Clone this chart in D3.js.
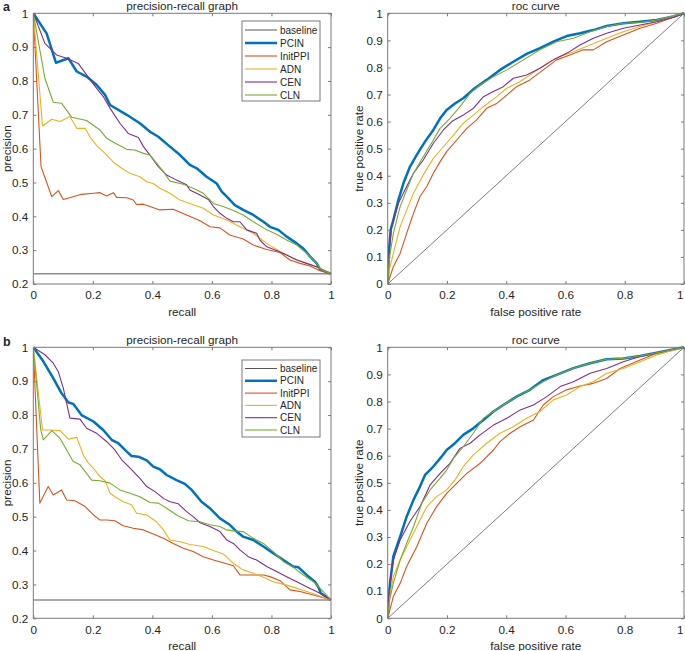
<!DOCTYPE html>
<html><head><meta charset="utf-8">
<script src="https://cdn.jsdelivr.net/npm/d3@7"></script>
<style>
body{margin:0;background:#fff}
svg{display:block}
text{font-family:"Liberation Sans",Arial,Helvetica,sans-serif;fill:#262626}
</style>
</head><body>
<svg id="chart" width="685" height="651"></svg>
<script>
// ---------------- data ----------------
const seriesNames = ["PCIN", "InitPPI", "ADN", "CEN", "CLN"];
const seriesColors = ["#0072BD", "#D95319", "#EDB120", "#7E2F8E", "#77AC30"];
const legendNames = ["baseline", "PCIN", "InitPPI", "ADN", "CEN", "CLN"];
const xTicks = [0, 0.2, 0.4, 0.6, 0.8, 1];
const prYTicks = [0.2, 0.3, 0.4, 0.5, 0.6, 0.7, 0.8, 0.9, 1];
const rocYTicks = [0, 0.1, 0.2, 0.3, 0.4, 0.5, 0.6, 0.7, 0.8, 0.9, 1];
const baselineA = 0.23;
const baselineB = 0.254;
const diagonal = [[0, 0], [1, 1]];

// panel a: precision-recall  [recall, precision]
const prA_PCIN = [[0,1],[0.045,0.94],[0.076,0.854],[0.118,0.867],[0.146,0.828],[0.179,0.813],[0.213,0.788],[0.241,0.759],[0.258,0.729],[0.314,0.7],[0.358,0.675],[0.392,0.65],[0.42,0.635],[0.459,0.606],[0.493,0.581],[0.526,0.552],[0.549,0.542],[0.582,0.517],[0.616,0.497],[0.633,0.473],[0.65,0.458],[0.677,0.433],[0.705,0.419],[0.739,0.404],[0.773,0.384],[0.795,0.369],[0.823,0.36],[0.851,0.34],[0.885,0.32],[0.907,0.305],[0.93,0.281],[0.952,0.261],[0.963,0.243],[1,0.23]];
const prA_InitPPI = [[0,1],[0.026,0.547],[0.062,0.458],[0.084,0.476],[0.101,0.45],[0.134,0.458],[0.162,0.465],[0.202,0.468],[0.224,0.47],[0.246,0.46],[0.269,0.47],[0.28,0.456],[0.314,0.455],[0.336,0.448],[0.347,0.435],[0.37,0.436],[0.392,0.429],[0.425,0.419],[0.47,0.421],[0.515,0.404],[0.56,0.387],[0.594,0.369],[0.627,0.366],[0.66,0.345],[0.705,0.333],[0.739,0.315],[0.784,0.302],[0.829,0.293],[0.862,0.271],[0.896,0.261],[0.93,0.253],[0.963,0.239],[1,0.23]];
const prA_ADN = [[0,1],[0.031,0.667],[0.062,0.687],[0.09,0.68],[0.123,0.695],[0.146,0.66],[0.174,0.66],[0.19,0.635],[0.213,0.609],[0.241,0.586],[0.269,0.56],[0.297,0.542],[0.325,0.527],[0.358,0.517],[0.381,0.502],[0.403,0.497],[0.425,0.483],[0.459,0.468],[0.493,0.448],[0.537,0.434],[0.571,0.424],[0.605,0.404],[0.65,0.389],[0.694,0.369],[0.739,0.35],[0.784,0.32],[0.829,0.296],[0.873,0.276],[0.918,0.261],[0.963,0.246],[1,0.23]];
const prA_CEN = [[0,1],[0.039,0.911],[0.078,0.877],[0.112,0.867],[0.151,0.852],[0.179,0.818],[0.213,0.778],[0.235,0.754],[0.258,0.719],[0.291,0.675],[0.319,0.645],[0.353,0.633],[0.37,0.606],[0.392,0.581],[0.42,0.547],[0.448,0.522],[0.481,0.507],[0.515,0.493],[0.526,0.478],[0.56,0.463],[0.588,0.45],[0.605,0.429],[0.627,0.409],[0.65,0.394],[0.672,0.384],[0.694,0.384],[0.717,0.36],[0.75,0.35],[0.761,0.33],[0.784,0.31],[0.817,0.299],[0.851,0.286],[0.885,0.271],[0.918,0.261],[0.952,0.251],[1,0.23]];
const prA_CLN = [[0,1],[0.039,0.808],[0.067,0.737],[0.095,0.734],[0.129,0.693],[0.179,0.683],[0.224,0.655],[0.246,0.631],[0.28,0.614],[0.314,0.598],[0.341,0.596],[0.37,0.586],[0.392,0.581],[0.414,0.557],[0.437,0.532],[0.459,0.504],[0.504,0.495],[0.537,0.483],[0.571,0.468],[0.605,0.438],[0.638,0.429],[0.672,0.417],[0.705,0.404],[0.739,0.384],[0.784,0.36],[0.817,0.347],[0.851,0.33],[0.885,0.315],[0.918,0.291],[0.952,0.261],[0.963,0.246],[1,0.23]];

// panel a: roc  [fpr, tpr]
const rocA_PCIN = [[0,0],[0.004,0.12],[0.01,0.2],[0.019,0.236],[0.036,0.31],[0.053,0.372],[0.075,0.433],[0.098,0.477],[0.126,0.526],[0.154,0.569],[0.177,0.612],[0.199,0.643],[0.227,0.667],[0.255,0.686],[0.289,0.719],[0.334,0.754],[0.379,0.791],[0.424,0.821],[0.469,0.85],[0.514,0.871],[0.559,0.895],[0.604,0.916],[0.649,0.926],[0.694,0.938],[0.739,0.953],[0.795,0.963],[0.852,0.969],[0.908,0.975],[0.964,0.988],[1,1]];
const rocA_InitPPI = [[0,0],[0.019,0.064],[0.042,0.113],[0.064,0.187],[0.087,0.261],[0.109,0.323],[0.132,0.36],[0.154,0.409],[0.177,0.452],[0.199,0.489],[0.233,0.532],[0.267,0.575],[0.3,0.606],[0.334,0.649],[0.368,0.667],[0.402,0.698],[0.435,0.729],[0.48,0.754],[0.525,0.791],[0.57,0.828],[0.615,0.846],[0.66,0.865],[0.694,0.865],[0.739,0.895],[0.795,0.92],[0.852,0.945],[0.908,0.963],[1,1]];
const rocA_ADN = [[0,0],[0.005,0.05],[0.019,0.113],[0.042,0.212],[0.064,0.273],[0.087,0.335],[0.12,0.403],[0.154,0.464],[0.188,0.507],[0.222,0.55],[0.255,0.594],[0.289,0.624],[0.323,0.655],[0.368,0.692],[0.402,0.723],[0.447,0.748],[0.492,0.781],[0.537,0.815],[0.582,0.84],[0.627,0.858],[0.683,0.883],[0.739,0.908],[0.795,0.932],[0.852,0.951],[0.908,0.969],[1,1]];
const rocA_CEN = [[0,0],[0.003,0.09],[0.013,0.212],[0.036,0.298],[0.064,0.36],[0.087,0.409],[0.12,0.458],[0.154,0.52],[0.188,0.569],[0.216,0.6],[0.255,0.624],[0.289,0.649],[0.323,0.692],[0.357,0.711],[0.39,0.729],[0.424,0.76],[0.469,0.772],[0.514,0.797],[0.559,0.828],[0.604,0.852],[0.649,0.883],[0.694,0.908],[0.739,0.926],[0.795,0.945],[0.852,0.957],[0.908,0.969],[0.964,0.985],[1,1]];
const rocA_CLN = [[0,0],[0.005,0.09],[0.019,0.187],[0.042,0.286],[0.064,0.347],[0.087,0.409],[0.12,0.47],[0.154,0.532],[0.177,0.575],[0.21,0.612],[0.244,0.655],[0.278,0.704],[0.312,0.735],[0.357,0.766],[0.402,0.791],[0.458,0.828],[0.514,0.865],[0.57,0.895],[0.627,0.908],[0.683,0.932],[0.739,0.951],[0.795,0.963],[0.852,0.966],[0.908,0.975],[1,1]];

// panel b: precision-recall
const prB_PCIN = [[0,1],[0.034,0.958],[0.067,0.909],[0.095,0.864],[0.118,0.837],[0.134,0.833],[0.162,0.8],[0.202,0.781],[0.235,0.756],[0.263,0.727],[0.285,0.717],[0.314,0.692],[0.33,0.679],[0.353,0.677],[0.381,0.666],[0.403,0.648],[0.425,0.64],[0.448,0.623],[0.481,0.608],[0.509,0.597],[0.532,0.579],[0.565,0.544],[0.593,0.525],[0.627,0.495],[0.66,0.476],[0.683,0.456],[0.705,0.441],[0.739,0.431],[0.773,0.412],[0.806,0.392],[0.84,0.372],[0.873,0.353],[0.89,0.351],[0.918,0.328],[0.946,0.308],[0.957,0.293],[0.966,0.274],[1,0.254]];
const prB_InitPPI = [[0,1],[0.022,0.54],[0.05,0.589],[0.067,0.564],[0.095,0.579],[0.112,0.549],[0.14,0.547],[0.174,0.53],[0.202,0.505],[0.224,0.49],[0.246,0.49],[0.274,0.488],[0.302,0.473],[0.336,0.466],[0.37,0.461],[0.403,0.449],[0.437,0.436],[0.47,0.421],[0.504,0.407],[0.537,0.397],[0.571,0.382],[0.605,0.372],[0.638,0.364],[0.672,0.355],[0.694,0.328],[0.739,0.328],[0.773,0.328],[0.795,0.323],[0.829,0.311],[0.862,0.284],[0.896,0.279],[0.941,0.269],[1,0.254]];
const prB_ADN = [[0,1],[0.031,0.756],[0.056,0.756],[0.09,0.754],[0.118,0.729],[0.146,0.734],[0.168,0.682],[0.185,0.658],[0.202,0.643],[0.224,0.618],[0.241,0.606],[0.258,0.569],[0.274,0.559],[0.302,0.544],[0.33,0.535],[0.347,0.51],[0.381,0.505],[0.414,0.485],[0.437,0.461],[0.459,0.431],[0.493,0.426],[0.526,0.418],[0.571,0.412],[0.605,0.4],[0.638,0.39],[0.672,0.362],[0.705,0.343],[0.739,0.333],[0.773,0.321],[0.806,0.308],[0.851,0.298],[0.885,0.289],[0.929,0.276],[1,0.254]];
const prB_CEN = [[0,1],[0.039,0.978],[0.067,0.953],[0.084,0.928],[0.101,0.879],[0.123,0.791],[0.157,0.788],[0.179,0.761],[0.213,0.746],[0.246,0.722],[0.274,0.697],[0.297,0.668],[0.325,0.643],[0.358,0.613],[0.381,0.589],[0.409,0.574],[0.437,0.554],[0.459,0.544],[0.487,0.538],[0.515,0.515],[0.537,0.5],[0.56,0.482],[0.593,0.471],[0.627,0.456],[0.65,0.431],[0.672,0.421],[0.694,0.402],[0.722,0.382],[0.75,0.372],[0.784,0.353],[0.817,0.338],[0.851,0.323],[0.885,0.308],[0.918,0.293],[0.963,0.274],[1,0.254]];
const prB_CLN = [[0,1],[0.025,0.756],[0.034,0.727],[0.062,0.754],[0.09,0.731],[0.112,0.697],[0.134,0.663],[0.157,0.653],[0.179,0.628],[0.196,0.608],[0.224,0.606],[0.258,0.599],[0.291,0.579],[0.325,0.569],[0.358,0.559],[0.392,0.542],[0.42,0.54],[0.448,0.525],[0.481,0.505],[0.521,0.488],[0.56,0.485],[0.593,0.476],[0.627,0.471],[0.65,0.461],[0.672,0.458],[0.705,0.456],[0.739,0.436],[0.773,0.421],[0.806,0.397],[0.84,0.367],[0.873,0.351],[0.907,0.328],[0.941,0.308],[0.963,0.289],[1,0.254]];

// panel b: roc
const rocB_PCIN = [[0,0],[0.003,0.07],[0.008,0.129],[0.019,0.228],[0.042,0.301],[0.064,0.375],[0.087,0.437],[0.109,0.486],[0.126,0.529],[0.154,0.56],[0.177,0.59],[0.199,0.621],[0.227,0.646],[0.255,0.677],[0.289,0.701],[0.323,0.732],[0.357,0.763],[0.39,0.787],[0.435,0.818],[0.48,0.843],[0.525,0.879],[0.57,0.898],[0.627,0.923],[0.683,0.941],[0.739,0.956],[0.795,0.959],[0.852,0.968],[0.908,0.98],[1,1]];
const rocB_InitPPI = [[0,0],[0.019,0.08],[0.042,0.129],[0.064,0.191],[0.098,0.264],[0.132,0.351],[0.165,0.412],[0.199,0.461],[0.233,0.498],[0.267,0.535],[0.312,0.572],[0.357,0.621],[0.379,0.652],[0.413,0.683],[0.447,0.707],[0.492,0.732],[0.525,0.787],[0.559,0.818],[0.604,0.843],[0.649,0.857],[0.694,0.867],[0.739,0.885],[0.784,0.922],[0.852,0.953],[0.908,0.978],[1,1]];
const rocB_ADN = [[0,0],[0.005,0.07],[0.019,0.154],[0.042,0.215],[0.064,0.264],[0.098,0.338],[0.132,0.412],[0.165,0.449],[0.199,0.474],[0.227,0.51],[0.255,0.56],[0.289,0.603],[0.334,0.646],[0.379,0.683],[0.424,0.707],[0.469,0.738],[0.514,0.763],[0.559,0.806],[0.604,0.824],[0.649,0.855],[0.694,0.873],[0.739,0.904],[0.795,0.922],[0.852,0.947],[0.908,0.972],[1,1]];
const rocB_CEN = [[0,0],[0.003,0.08],[0.008,0.141],[0.019,0.215],[0.042,0.289],[0.075,0.357],[0.109,0.412],[0.143,0.492],[0.177,0.535],[0.21,0.572],[0.244,0.627],[0.278,0.646],[0.312,0.677],[0.357,0.713],[0.402,0.738],[0.447,0.769],[0.492,0.787],[0.537,0.818],[0.582,0.855],[0.627,0.873],[0.683,0.904],[0.739,0.922],[0.795,0.947],[0.852,0.966],[0.908,0.98],[1,1]];
const rocB_CLN = [[0,0],[0.005,0.06],[0.019,0.129],[0.042,0.215],[0.064,0.277],[0.087,0.338],[0.115,0.424],[0.143,0.474],[0.177,0.517],[0.199,0.547],[0.222,0.59],[0.255,0.633],[0.289,0.683],[0.323,0.738],[0.357,0.763],[0.39,0.787],[0.435,0.818],[0.48,0.843],[0.525,0.873],[0.57,0.898],[0.627,0.923],[0.683,0.941],[0.739,0.956],[0.795,0.959],[0.852,0.968],[0.908,0.98],[1,1]];

// ---------------- drawing ----------------
const svg = d3.select("#chart");
const FONT = 11.7;
const AXIS_COLOR = "#7a7a7a";
const TEXT_COLOR = "#2e2e2e";

function drawAxes(g, x, y, yTicks, cfg) {
  const w = cfg.x1 - cfg.x0, h = cfg.yb - cfg.yt;
  const fmt = d3.format("~g");
  const bottom = g.append("g").attr("transform", `translate(0,${cfg.yb})`)
    .call(d3.axisBottom(x).tickValues(xTicks).tickFormat(fmt).tickSizeInner(-3).tickSizeOuter(0).tickPadding(7));
  const left = g.append("g").attr("transform", `translate(${cfg.x0},0)`)
    .call(d3.axisLeft(y).tickValues(yTicks).tickFormat(fmt).tickSizeInner(-3).tickSizeOuter(0).tickPadding(5));
  const top = g.append("g").attr("transform", `translate(0,${cfg.yt})`)
    .call(d3.axisTop(x).tickValues(xTicks).tickFormat("").tickSizeInner(-3).tickSizeOuter(0));
  const right = g.append("g").attr("transform", `translate(${cfg.x1},0)`)
    .call(d3.axisRight(y).tickValues(yTicks).tickFormat("").tickSizeInner(-3).tickSizeOuter(0));
  [bottom, left, top, right].forEach(a => {
    a.select(".domain").remove();
    a.selectAll("line").attr("stroke", AXIS_COLOR).attr("stroke-width", 1);
    a.selectAll("text").attr("font-size", FONT).attr("font-family", '"Liberation Sans",Arial,sans-serif').attr("fill", TEXT_COLOR);
  });
  // keep the last x label inside the picture when the axis touches the right edge
  if (cfg.x1 > 680) {
    bottom.selectAll(".tick").filter(d => d === 1).select("text").attr("text-anchor", "end").attr("dx", "-0.08em");
  }
  g.append("rect").attr("x", cfg.x0).attr("y", cfg.yt).attr("width", w).attr("height", h)
    .attr("fill", "none").attr("stroke", AXIS_COLOR).attr("stroke-width", 1);
}

function drawPanel(cfg) {
  const g = svg.append("g");
  const x = d3.scaleLinear().domain([0, 1]).range([cfg.x0, cfg.x1]);
  const y = d3.scaleLinear().domain(cfg.yDomain).range([cfg.yb, cfg.yt]);
  const line = d3.line().x(d => x(d[0])).y(d => y(d[1]));
  const clipId = "clip" + cfg.id;
  g.append("clipPath").attr("id", clipId).append("rect")
    .attr("x", cfg.x0).attr("y", cfg.yt - 2).attr("width", cfg.x1 - cfg.x0 + 2).attr("height", cfg.yb - cfg.yt + 3);
  const plot = g.append("g").attr("clip-path", `url(#${clipId})`);

  plot.append("path").datum(cfg.refLine).attr("d", line)
    .attr("fill", "none").attr("stroke", cfg.refColor).attr("stroke-width", cfg.refWidth);

  cfg.series.forEach((s, i) => {
    plot.append("path").datum(s).attr("d", line)
      .attr("fill", "none").attr("stroke", seriesColors[i])
      .attr("stroke-width", i === 0 ? 2.5 : 1.1)
      .attr("stroke-linejoin", "round");
  });

  drawAxes(g, x, y, cfg.yTicks, cfg);

  g.append("text").attr("x", (cfg.x0 + cfg.x1) / 2).attr("y", cfg.yt - 3.8)
    .attr("text-anchor", "middle").attr("font-size", FONT).attr("fill", TEXT_COLOR).text(cfg.title);
  g.append("text").attr("x", (cfg.x0 + cfg.x1) / 2).attr("y", cfg.yb + 32)
    .attr("text-anchor", "middle").attr("font-size", FONT).attr("fill", TEXT_COLOR).text(cfg.xLabel);
  g.append("text").attr("transform", `translate(${cfg.yLabelX},${(cfg.yt + cfg.yb) / 2}) rotate(-90)`)
    .attr("text-anchor", "middle").attr("font-size", FONT).attr("fill", TEXT_COLOR).text(cfg.yLabel);

  if (cfg.legend) {
    const L = cfg.legend;
    const lg = g.append("g");
    lg.append("rect").attr("x", L.x).attr("y", L.y).attr("width", L.w).attr("height", L.h)
      .attr("fill", "#fff").attr("stroke", AXIS_COLOR).attr("stroke-width", 1);
    legendNames.forEach((name, i) => {
      const yy = L.y + L.first + i * L.step;
      const color = i === 0 ? cfg.refColor : seriesColors[i - 1];
      const width = i === 0 ? 1 : (i === 1 ? 2.5 : 1.1);
      lg.append("line").attr("x1", L.x + 3).attr("x2", L.x + 35).attr("y1", yy).attr("y2", yy)
        .attr("stroke", color).attr("stroke-width", width);
      lg.append("text").attr("x", L.x + 38).attr("y", yy).attr("dy", "0.35em")
        .attr("font-size", 10).attr("fill", TEXT_COLOR).text(name);
    });
  }
}

const panels = [
  { id: "a1", x0: 33.3, x1: 331, yt: 13.3, yb: 284, yDomain: [0.2, 1], yTicks: prYTicks,
    title: "precision-recall graph", xLabel: "recall", yLabel: "precision", yLabelX: 11,
    refLine: [[0, baselineA], [1, baselineA]], refColor: "#555", refWidth: 1,
    series: [prA_PCIN, prA_InitPPI, prA_ADN, prA_CEN, prA_CLN],
    legend: { x: 242, y: 21, w: 78, h: 80, first: 9, step: 13 } },
  { id: "a2", x0: 387.7, x1: 684, yt: 13.3, yb: 284, yDomain: [0, 1], yTicks: rocYTicks,
    title: "roc curve", xLabel: "false positive rate", yLabel: "true positive rate", yLabelX: 363,
    refLine: diagonal, refColor: "#444", refWidth: 0.7,
    series: [rocA_PCIN, rocA_InitPPI, rocA_ADN, rocA_CEN, rocA_CLN] },
  { id: "b1", x0: 33.3, x1: 331, yt: 347.3, yb: 618.3, yDomain: [0.2, 1], yTicks: prYTicks,
    title: "precision-recall graph", xLabel: "recall", yLabel: "precision", yLabelX: 11,
    refLine: [[0, baselineB], [1, baselineB]], refColor: "#555", refWidth: 1,
    series: [prB_PCIN, prB_InitPPI, prB_ADN, prB_CEN, prB_CLN],
    legend: { x: 242, y: 360, w: 78, h: 77, first: 8.5, step: 12.3 } },
  { id: "b2", x0: 387.7, x1: 684, yt: 347.3, yb: 618.3, yDomain: [0, 1], yTicks: rocYTicks,
    title: "roc curve", xLabel: "false positive rate", yLabel: "true positive rate", yLabelX: 363,
    refLine: diagonal, refColor: "#444", refWidth: 0.7,
    series: [rocB_PCIN, rocB_InitPPI, rocB_ADN, rocB_CEN, rocB_CLN] }
];
panels.forEach(drawPanel);

// panel letters
svg.append("text").attr("x", 3).attr("y", 11).attr("font-family", '"Liberation Serif","Times New Roman",serif')
  .attr("font-weight", "bold").attr("font-size", 12.5).attr("fill", "#111").text("a");
svg.append("text").attr("x", 3).attr("y", 345.5).attr("font-family", '"Liberation Serif","Times New Roman",serif')
  .attr("font-weight", "bold").attr("font-size", 12.5).attr("fill", "#111").text("b");
</script>
</body></html>
